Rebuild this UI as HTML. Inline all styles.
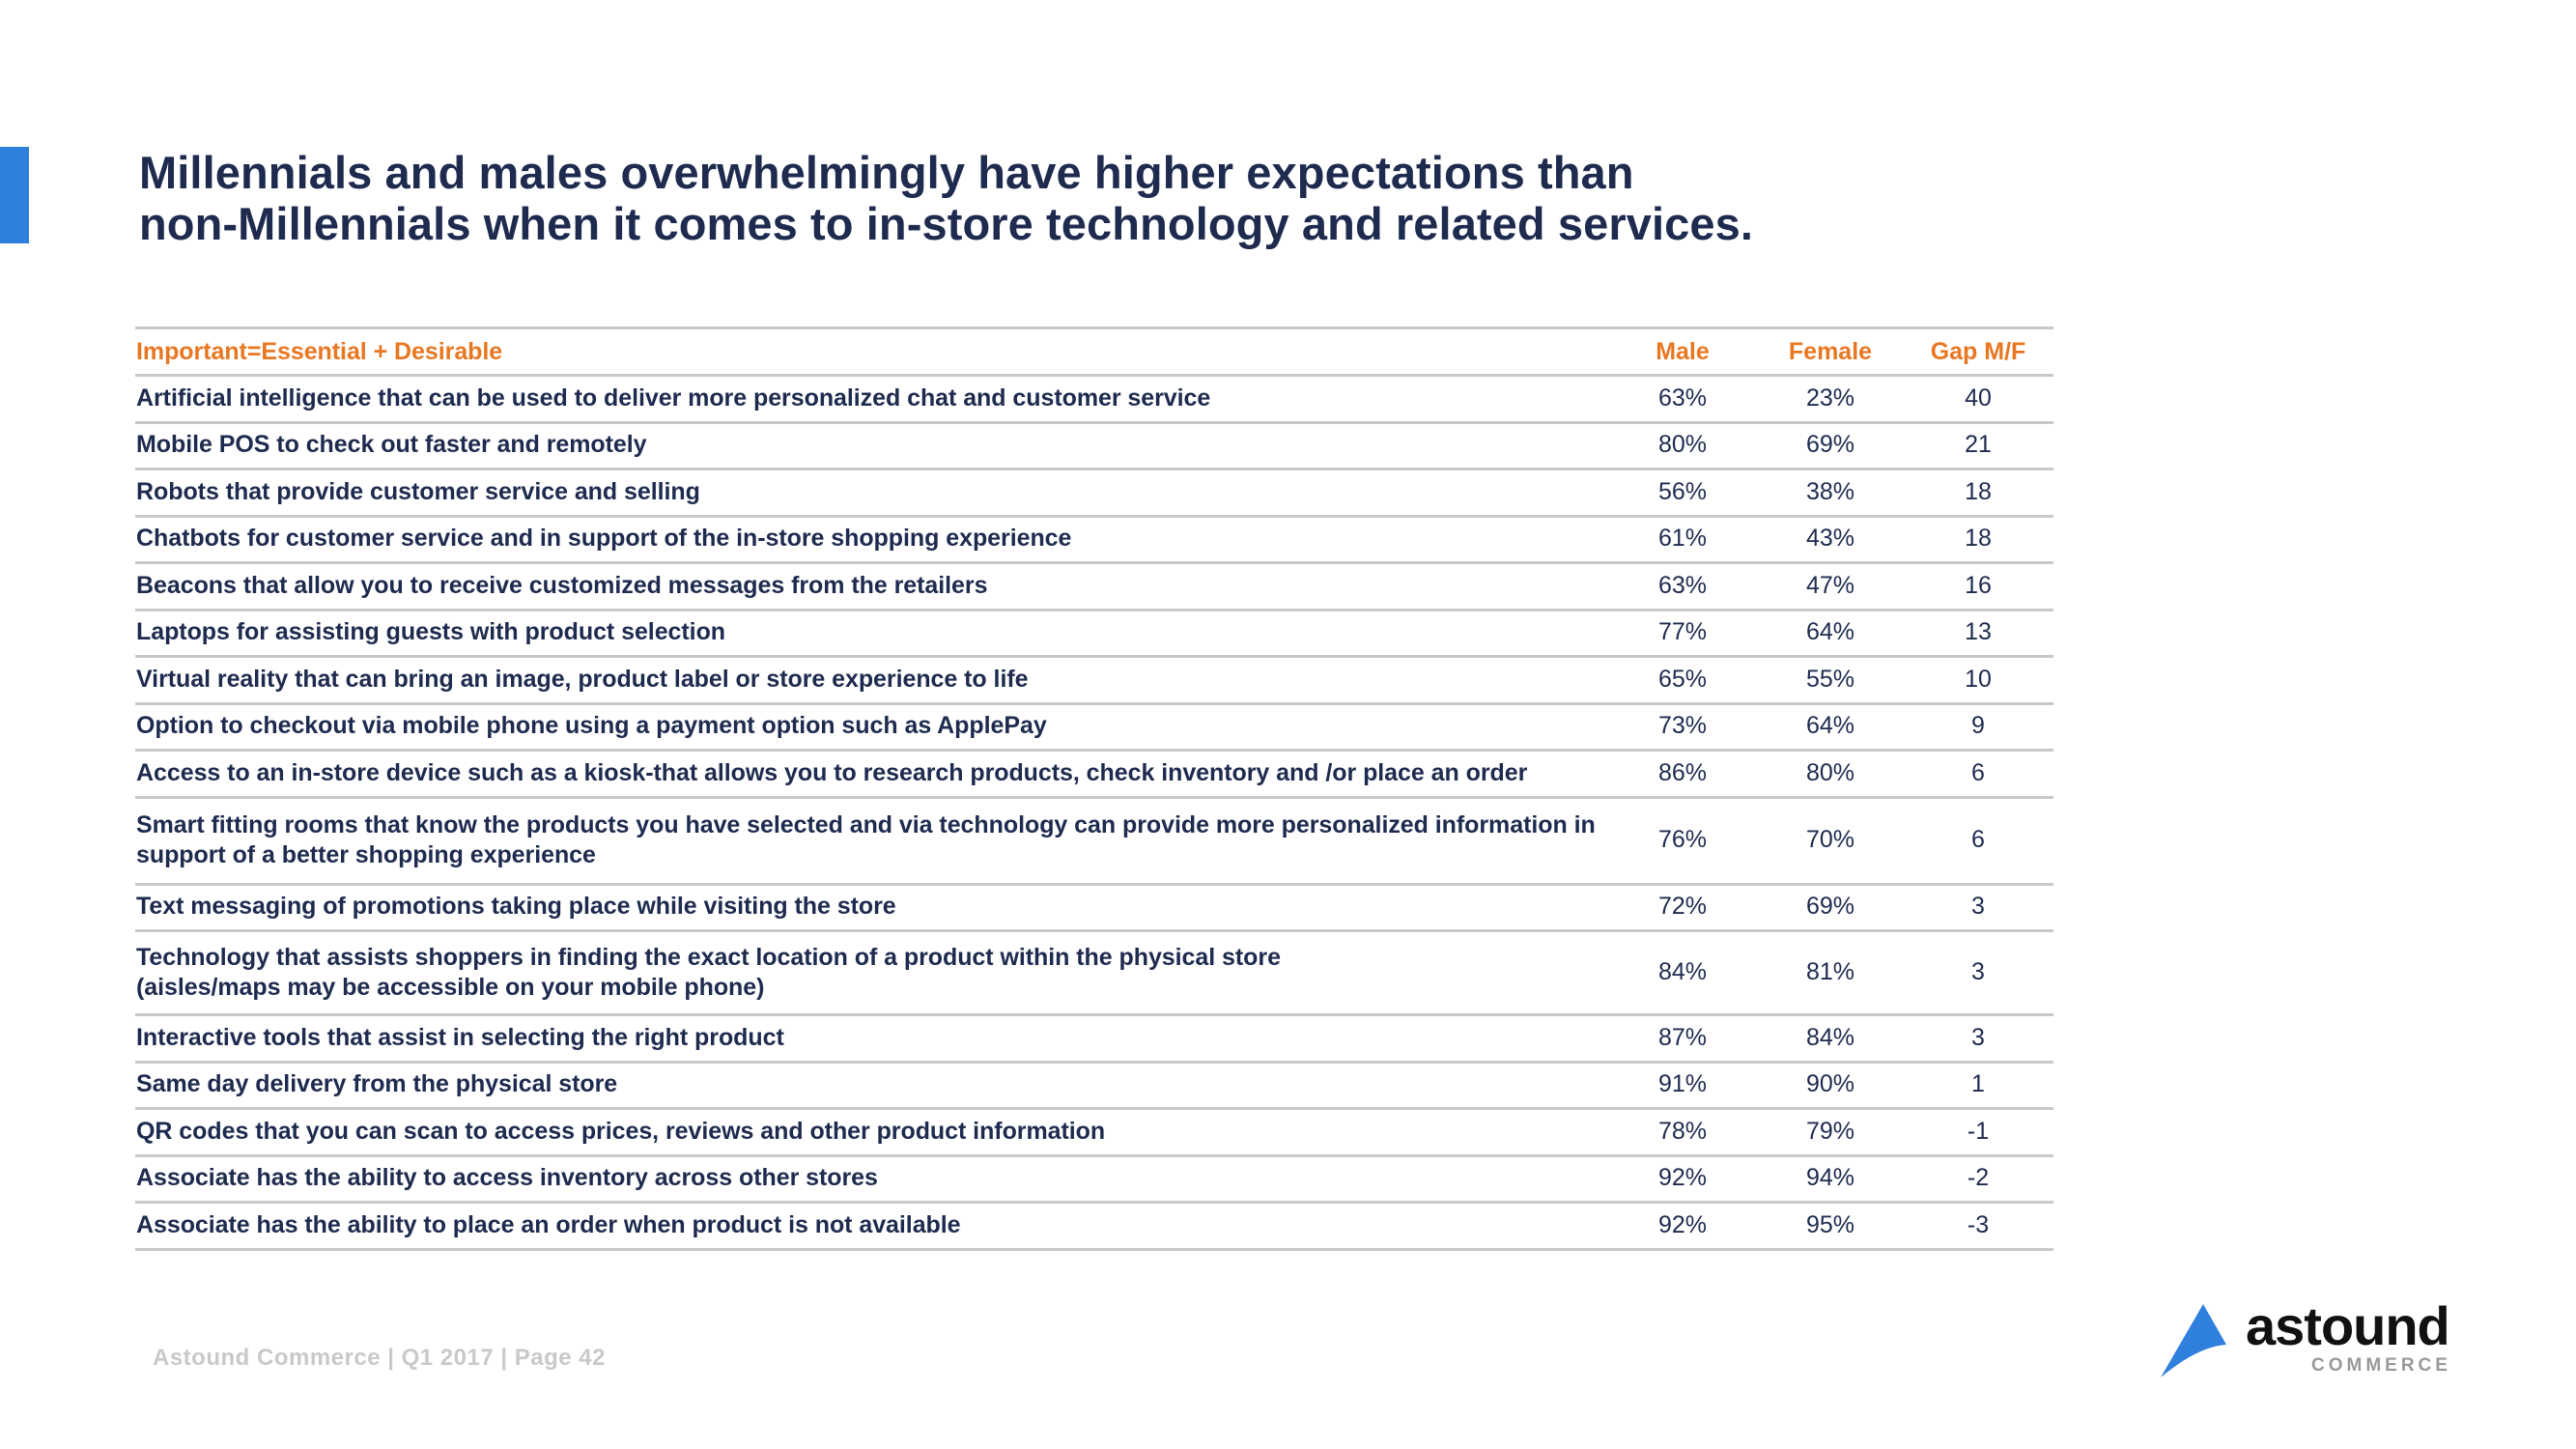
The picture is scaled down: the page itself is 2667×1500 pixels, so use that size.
<!DOCTYPE html>
<html><head><meta charset="utf-8">
<style>
html,body{margin:0;padding:0;background:#fff;}
body{width:2667px;height:1500px;position:relative;overflow:hidden;font-family:"Liberation Sans",sans-serif;}
.abs{position:absolute;}
#title{left:144px;top:152px;font-size:47px;font-weight:bold;color:#1e2b4f;line-height:53px;letter-spacing:0.1px;}
.line{position:absolute;left:140px;width:1986px;height:3px;background:#c8c8c8;}
.lbl{position:absolute;left:141px;font-size:25px;font-weight:bold;color:#1e2b4f;letter-spacing:-0.05px;line-height:31px;white-space:nowrap;}
.val{position:absolute;width:160px;margin-left:-80px;text-align:center;font-size:25px;color:#1e2b4f;}
.hdr{color:#e87722;font-weight:bold;}
</style></head>
<body>
<div class="abs" style="left:0;top:152px;width:30px;height:100px;background:#2f7fdc;"></div>
<div id="title" class="abs">Millennials and males overwhelmingly have higher expectations than<br>non-Millennials when it comes to in-store technology and related services.</div>
<div id="table"></div>
<div class="abs" style="left:158px;top:1392px;font-size:24px;font-weight:bold;color:#c9c9c9;letter-spacing:0.5px;">Astound Commerce | Q1 2017 | Page 42</div>
<svg class="abs" style="left:2235px;top:1348px" width="72" height="80"><path d="M46 2 L70 44 Q40 46 2 78 Z" fill="#2f7fdc"/></svg>
<div class="abs" style="left:2325px;top:1340px;font-size:56px;font-weight:bold;color:#111;letter-spacing:-1px;">astound</div>
<div class="abs" style="left:2393px;top:1403px;font-size:19px;font-weight:bold;color:#999;letter-spacing:4px;">COMMERCE</div>
<script>
const labels=["Artificial intelligence that can be used to deliver more personalized chat and customer service","Mobile POS to check out faster and remotely","Robots that provide customer service and selling","Chatbots for customer service and in support of the in-store shopping experience","Beacons that allow you to receive customized messages from the retailers","Laptops for assisting guests with product selection","Virtual reality that can bring an image, product label or store experience to life","Option to checkout via mobile phone using a payment option such as ApplePay","Access to an in-store device such as a kiosk-that allows you to research products, check inventory and /or place an order","Smart fitting rooms that know the products you have selected and via technology can provide more personalized information in<br>support of a better shopping experience","Text messaging of promotions taking place while visiting the store","Technology that assists shoppers in finding the exact location of a product within the physical store<br>(aisles/maps may be accessible on your mobile phone)","Interactive tools that assist in selecting the right product","Same day delivery from the physical store","QR codes that you can scan to access prices, reviews and other product information","Associate has the ability to access inventory across other stores","Associate has the ability to place an order when product is not available"];
const male=[63,80,56,61,63,77,65,73,86,76,72,84,87,91,78,92,92];
const female=[23,69,38,43,47,64,55,64,80,70,69,81,84,90,79,94,95];
const gap=[40,21,18,18,16,13,10,9,6,6,3,3,3,1,-1,-2,-3];
const headers=["Important=Essential + Desirable","Male","Female","Gap M/F"];
const t=document.getElementById('table');
const colX=[1742,1895,2048];
function addLine(y){const d=document.createElement('div');d.className='line';d.style.top=(y-1)+'px';


t.appendChild(d);}
function addText(cls,x,cy,h,html,name){const d=document.createElement('div');d.className=cls;d.innerHTML=html;
d.style.top=(cy-h/2)+'px';d.style.lineHeight=(cls.indexOf('lbl')>=0)?'31px':h+'px';
if(x!==null)d.style.left=x+'px';


t.appendChild(d);return d;}
addLine(339);
let hc=364;
addText('lbl hdr',null,hc,31,headers[0],'header-label');
for(let i=0;i<3;i++)addText('val hdr',colX[i],hc,31,headers[i+1],'header-'+headers[i+1].toLowerCase().replace(/[^a-z]+/g,'-'));
let y=388;addLine(y);
for(let i=0;i<labels.length;i++){
 const two=labels[i].indexOf('<br>')>=0;
 const rh=two?(i===9?90:87):48.5;
 const cy=y+rh/2;
 addText('lbl',null,cy,two?62:31,labels[i],'row-label');
 addText('val',colX[0],cy,31,male[i]+'%','male-value');
 addText('val',colX[1],cy,31,female[i]+'%','female-value');
 addText('val',colX[2],cy,31,String(gap[i]),'gap-value');
 y+=rh;addLine(y);
}
</script>
</body></html>
